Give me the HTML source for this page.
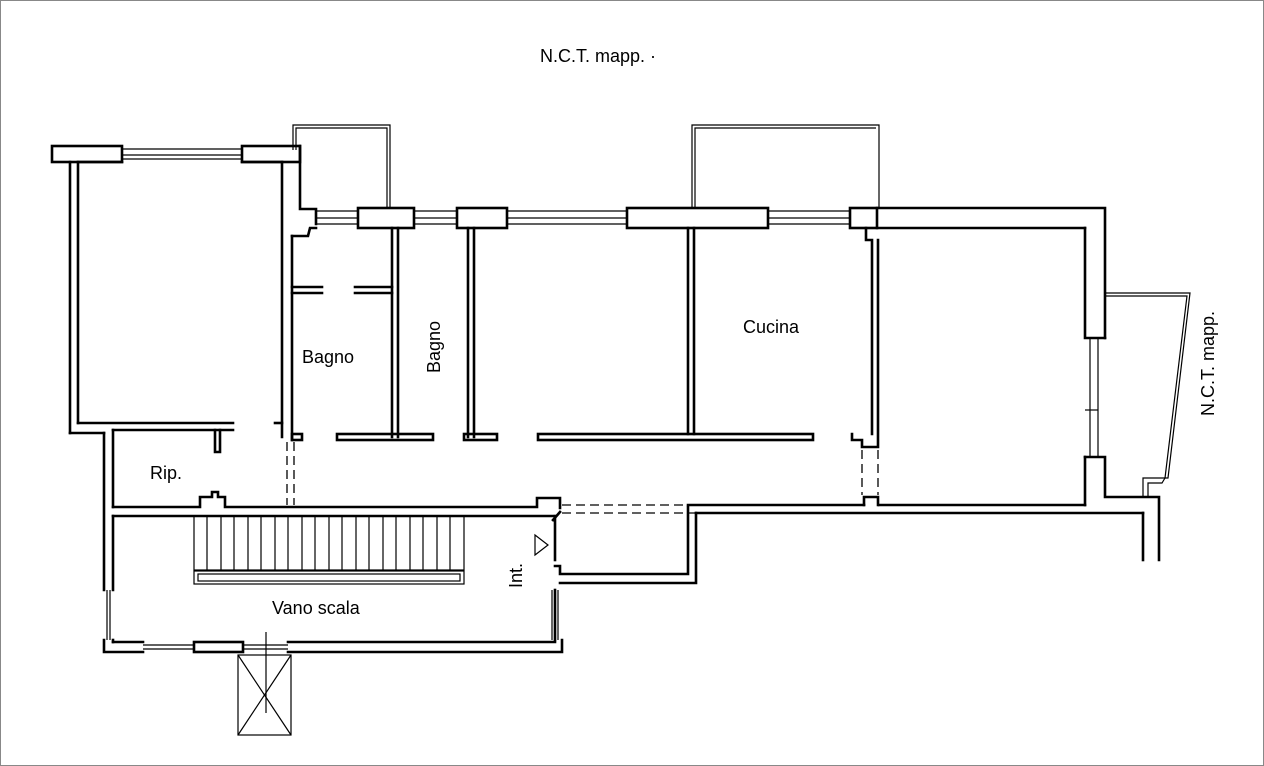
<!DOCTYPE html>
<html><head><style>
html,body{margin:0;padding:0;background:#fff;}
svg{display:block;}
text{font-family:"Liberation Sans",sans-serif;fill:#000;font-size:18px;}
</style></head><body>
<svg width="1264" height="766" viewBox="0 0 1264 766" xmlns="http://www.w3.org/2000/svg">
<rect x="0.5" y="0.5" width="1263" height="765" fill="#fff" stroke="#888" stroke-width="1"/>
<g fill="none" stroke="#000" stroke-width="2.6" stroke-linecap="square">
<!-- top-left room -->
<rect x="52" y="146" width="70" height="16"/>
<rect x="242" y="146" width="58" height="16"/>
<polyline points="300,146 300,209 316,209 316,224"/>
<line x1="70" y1="162" x2="70" y2="433"/>
<line x1="78" y1="162" x2="78" y2="423"/>
<line x1="78" y1="162" x2="122" y2="162"/>
<line x1="242" y1="162" x2="282" y2="162"/>
<line x1="282" y1="162" x2="282" y2="437"/>
<line x1="78" y1="423" x2="233" y2="423"/>
<line x1="70" y1="433" x2="104" y2="433"/>
<line x1="113" y1="430" x2="233" y2="430"/>
<polyline points="215,430 215,452 220,452 220,430"/>
<line x1="275" y1="423" x2="282" y2="423"/>
<!-- Rip / stair room -->
<line x1="104" y1="433" x2="104" y2="590"/>
<line x1="113" y1="430" x2="113" y2="507"/>
<polyline points="113,507 200,507 200,497 212,497 212,492 218,492 218,497 225,497 225,507 537,507 537,498 560,498 560,508"/>
<line x1="113" y1="516" x2="553" y2="516"/>
<line x1="113" y1="516" x2="113" y2="590"/>
<line x1="555" y1="516" x2="555" y2="560"/>
<polyline points="553,520 560,512"/>
<polyline points="555,566 560,566 560,574 688,574 688,507"/>
<polyline points="560,583 696,583 696,513"/>
<line x1="555" y1="590" x2="555" y2="640"/>
<polyline points="104,640 104,652 143,652"/>
<line x1="113" y1="640" x2="113" y2="642"/>
<line x1="113" y1="642" x2="143" y2="642"/>
<rect x="194" y="642" width="49" height="10"/>
<polyline points="288,652 562,652 562,640"/>
<line x1="288" y1="642" x2="555" y2="642"/>
<!-- corridor / bathrooms -->
<line x1="292" y1="236" x2="292" y2="440"/>
<polyline points="292,236 308,236 310,228 316,228"/>
<line x1="292" y1="287" x2="322" y2="287"/>
<line x1="292" y1="293" x2="322" y2="293"/>
<line x1="355" y1="287" x2="392" y2="287"/>
<line x1="355" y1="293" x2="392" y2="293"/>
<rect x="358" y="208" width="56" height="20"/>
<rect x="457" y="208" width="50" height="20"/>
<rect x="627" y="208" width="141" height="20"/>
<rect x="850" y="208" width="27" height="20"/>
<line x1="392" y1="228" x2="392" y2="437"/>
<line x1="398" y1="228" x2="398" y2="437"/>
<line x1="468" y1="228" x2="468" y2="437"/>
<line x1="474" y1="228" x2="474" y2="437"/>
<line x1="688" y1="228" x2="688" y2="434"/>
<line x1="694" y1="228" x2="694" y2="434"/>
<rect x="292" y="434" width="10" height="6"/>
<rect x="337" y="434" width="96" height="6"/>
<rect x="464" y="434" width="33" height="6"/>
<rect x="538" y="434" width="275" height="6"/>
<polyline points="866,228 866,240 872,240 872,434"/>
<polyline points="852,434 852,440 862,440 862,447 878,447 878,240"/>
<!-- right room -->
<polyline points="877,208 1105,208 1105,338"/>
<line x1="877" y1="228" x2="1085" y2="228"/>
<polyline points="1085,228 1085,338 1105,338"/>
<polyline points="1085,457 1105,457 1105,497 1159,497 1159,560"/>
<line x1="1085" y1="457" x2="1085" y2="505"/>
<line x1="879" y1="505" x2="1085" y2="505"/>
<line x1="688" y1="505" x2="864" y2="505"/>
<polyline points="864,505 864,497 878,497 878,505"/>
<line x1="696" y1="513" x2="1143" y2="513"/>
<line x1="1143" y1="513" x2="1143" y2="560"/>
</g>
<!-- thin lines: windows, balconies -->
<g fill="none" stroke="#000" stroke-width="1.2">
<line x1="122" y1="149" x2="242" y2="149"/><line x1="122" y1="155" x2="242" y2="155"/><line x1="122" y1="159" x2="242" y2="159"/>
<line x1="316" y1="211" x2="358" y2="211"/><line x1="316" y1="218" x2="358" y2="218"/><line x1="316" y1="224" x2="358" y2="224"/>
<line x1="414" y1="211" x2="457" y2="211"/><line x1="414" y1="218" x2="457" y2="218"/><line x1="414" y1="224" x2="457" y2="224"/>
<line x1="507" y1="211" x2="627" y2="211"/><line x1="507" y1="218" x2="627" y2="218"/><line x1="507" y1="224" x2="627" y2="224"/>
<line x1="768" y1="211" x2="850" y2="211"/><line x1="768" y1="218" x2="850" y2="218"/><line x1="768" y1="224" x2="850" y2="224"/>
<polyline points="293,150 293,125 390,125 390,208"/><polyline points="296,150 296,128 387,128 387,208"/>
<polyline points="692,208 692,125 879,125 879,208"/><polyline points="695,208 695,128 876,128"/>
<polyline points="1105,293 1190,293 1168,478 1143,478 1143,497"/><polyline points="1105,296 1187,296 1165,478"/><polyline points="1148,497 1148,483 1162,483 1165,478"/>
<line x1="1090" y1="338" x2="1090" y2="457"/><line x1="1098" y1="338" x2="1098" y2="457"/><line x1="1085" y1="410" x2="1098" y2="410"/>
<line x1="107" y1="590" x2="107" y2="640"/><line x1="110" y1="590" x2="110" y2="640"/>
<line x1="552" y1="590" x2="552" y2="640"/><line x1="558" y1="590" x2="558" y2="640"/>
<line x1="143" y1="645" x2="194" y2="645"/><line x1="143" y1="649" x2="194" y2="649"/>
<line x1="243" y1="645" x2="288" y2="645"/><line x1="243" y1="649" x2="288" y2="649"/>
<rect x="238" y="655" width="53" height="80"/>
<line x1="238" y1="655" x2="291" y2="735"/><line x1="291" y1="655" x2="238" y2="735"/>
<line x1="266" y1="632" x2="266" y2="713"/>
<!-- stairs -->
<rect x="194" y="516" width="270" height="54"/>
<rect x="194" y="571" width="270" height="13"/>
<rect x="198" y="574" width="262" height="7"/>
<line x1="207" y1="516" x2="207" y2="570"/><line x1="221" y1="516" x2="221" y2="570"/><line x1="234" y1="516" x2="234" y2="570"/><line x1="248" y1="516" x2="248" y2="570"/><line x1="261" y1="516" x2="261" y2="570"/><line x1="275" y1="516" x2="275" y2="570"/><line x1="288" y1="516" x2="288" y2="570"/><line x1="302" y1="516" x2="302" y2="570"/><line x1="315" y1="516" x2="315" y2="570"/><line x1="329" y1="516" x2="329" y2="570"/><line x1="342" y1="516" x2="342" y2="570"/><line x1="356" y1="516" x2="356" y2="570"/><line x1="369" y1="516" x2="369" y2="570"/><line x1="383" y1="516" x2="383" y2="570"/><line x1="396" y1="516" x2="396" y2="570"/><line x1="410" y1="516" x2="410" y2="570"/><line x1="423" y1="516" x2="423" y2="570"/><line x1="437" y1="516" x2="437" y2="570"/><line x1="450" y1="516" x2="450" y2="570"/>
<polygon points="535,535 535,555 548,545"/>
</g>
<g fill="none" stroke="#000" stroke-width="1.3" stroke-dasharray="9,5">
<line x1="287" y1="442" x2="287" y2="505"/><line x1="294" y1="442" x2="294" y2="505"/>
<line x1="862" y1="450" x2="862" y2="495"/><line x1="878" y1="450" x2="878" y2="495"/>
<line x1="562" y1="505" x2="688" y2="505"/><line x1="562" y1="513" x2="696" y2="513"/>
</g>
<text x="540" y="62">N.C.T. mapp. ·</text>
<text x="302" y="363">Bagno</text>
<text transform="translate(440,373) rotate(-90)">Bagno</text>
<text x="743" y="333">Cucina</text>
<text x="150" y="479">Rip.</text>
<text x="272" y="614">Vano scala</text>
<text transform="translate(522,588) rotate(-90)">Int.</text>
<text transform="translate(1214,416) rotate(-90)">N.C.T. mapp.</text>
</svg>
</body></html>
